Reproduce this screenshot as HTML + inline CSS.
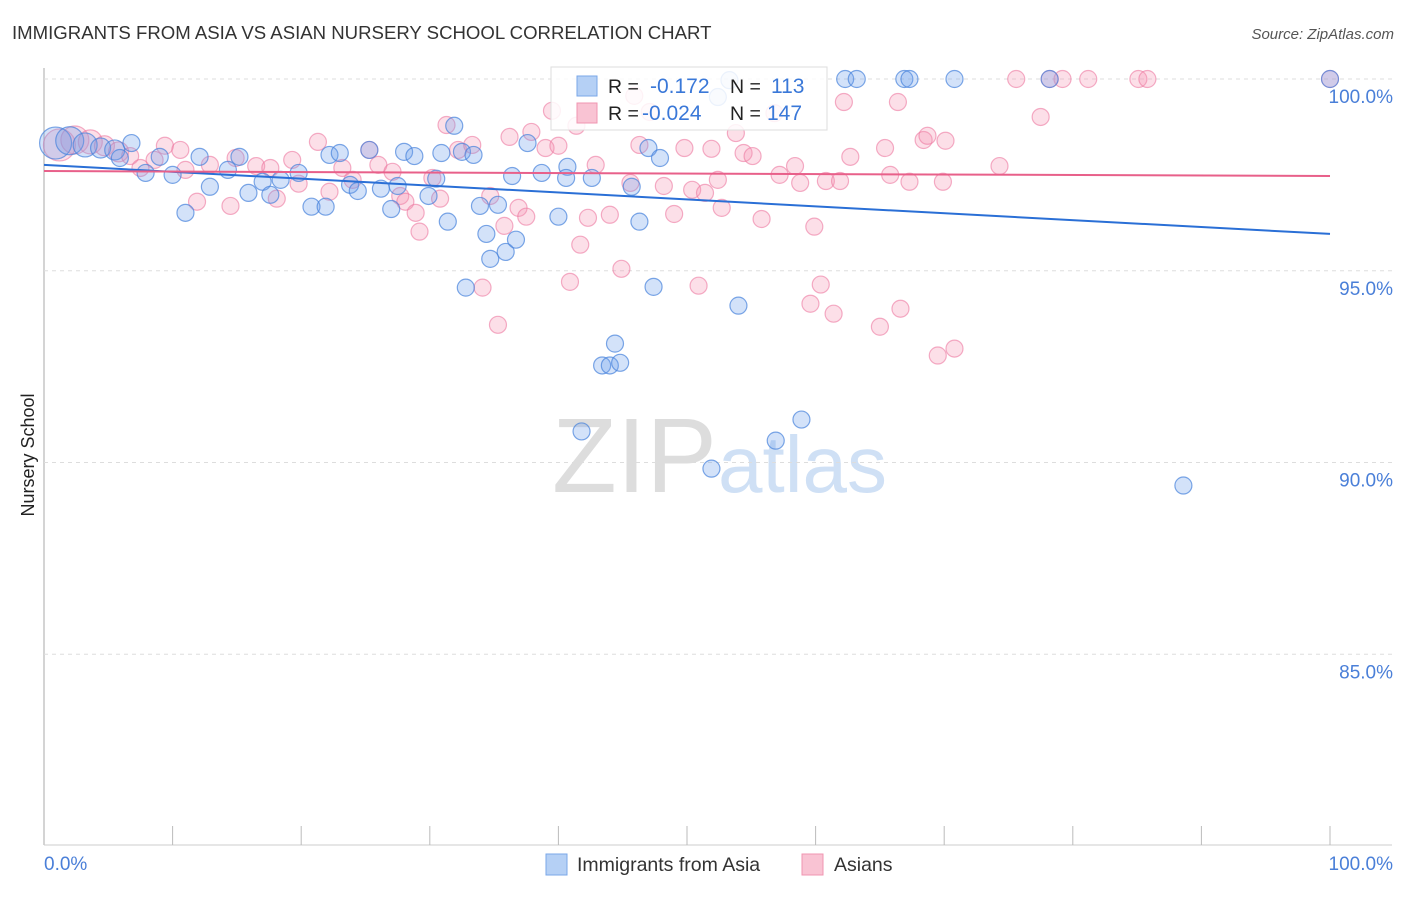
<!DOCTYPE html>
<html><head><meta charset="utf-8"><style>
body{margin:0;background:#fff;font-family:"Liberation Sans",sans-serif}
svg text{font-family:"Liberation Sans",sans-serif}
</style></head><body>
<svg id="c" width="1406" height="892">
<text x="12" y="39" font-size="18.6" fill="#333">IMMIGRANTS FROM ASIA VS ASIAN NURSERY SCHOOL CORRELATION CHART</text>
<text x="1394" y="39" font-size="15" fill="#555" font-style="italic" text-anchor="end">Source: ZipAtlas.com</text>
<text x="34" y="455" font-size="18" fill="#222" transform="rotate(-90 34 455)" text-anchor="middle">Nursery School</text>
<g><text x="552" y="492" font-size="106" fill="#ddd" font-family="Liberation Serif">ZIP</text><text x="718" y="492" font-size="80" fill="#cfe0f5">atlas</text></g>
<g id="grid"></g><g id="pts"></g><g id="lines"></g>
<g>
<rect x="551" y="67" width="276" height="63" fill="#fff" fill-opacity="0.85" stroke="#ddd"/>
<rect x="577" y="76" width="20" height="20" fill="#b5d0f5" stroke="#7aa7e8"/>
<rect x="577" y="103" width="20" height="20" fill="#f9c3d3" stroke="#f096b0"/>
<text x="608" y="93" font-size="19.5" fill="#222">R = </text><text x="650" y="93" font-size="21" fill="#3a78d8">-0.172</text>
<text x="730" y="93" font-size="19.5" fill="#222">N = </text><text x="771" y="93" font-size="21" fill="#3a78d8">113</text>
<text x="608" y="120" font-size="19.5" fill="#222">R = </text><text x="642" y="120" font-size="21" fill="#3a78d8">-0.024</text>
<text x="730" y="120" font-size="19.5" fill="#222">N = </text><text x="767" y="120" font-size="21" fill="#3a78d8">147</text>
</g>
<g>
<rect x="546" y="854" width="21" height="21" fill="#b5d0f5" stroke="#7aa7e8"/>
<text x="577" y="871" font-size="19.5" fill="#333">Immigrants from Asia</text>
<rect x="802" y="854" width="21" height="21" fill="#f9c3d3" stroke="#f096b0"/>
<text x="834" y="871" font-size="19.5" fill="#333">Asians</text>
</g>
</svg>
<script>
const blueX=[0.9,2.0,3.2,4.4,5.5,6.8,5.9,7.9,9.0,10.0,11.0,12.1,12.9,14.3,15.2,15.9,17.0,17.6,18.4,19.8,20.8,21.9,22.2,23.0,23.8,24.4,25.3,26.2,27.0,27.5,28.0,28.8,29.9,30.5,30.9,31.4,31.9,32.5,32.8,33.4,33.9,34.4,34.7,35.3,35.9,36.4,36.7,37.6,38.7,40.0,40.7,40.6,42.6,43.4,44.0,44.4,44.8,45.7,46.3,47.0,47.4,47.9,51.9,52.4,53.3,54.0,56.9,58.9,62.3,63.2,66.9,67.3,70.8,78.2,88.6,100,41.8];
const blueY=[98.33,98.39,98.28,98.2,98.15,98.33,97.94,97.55,97.97,97.5,96.51,97.97,97.19,97.63,97.97,97.03,97.32,96.98,97.37,97.55,96.67,96.67,98.02,98.07,97.24,97.08,98.15,97.14,96.61,97.21,98.1,97.99,96.95,97.4,98.07,96.28,98.78,98.1,94.56,98.02,96.69,95.96,95.31,96.72,95.49,97.47,95.81,98.33,97.55,96.41,97.71,97.42,97.42,92.53,92.53,93.1,92.6,97.19,96.28,98.2,94.58,97.94,89.84,99.53,99.97,94.09,90.57,91.12,100,100,100,100,100,100,89.4,100,90.81];
const pinkX=[1.2,2.4,3.6,4.7,5.8,6.7,7.5,8.6,9.4,10.6,11.0,11.9,12.9,14.5,14.9,16.5,17.6,18.1,19.3,19.8,21.3,22.2,23.2,24.0,25.3,26.0,27.1,27.7,28.1,28.9,29.2,30.2,30.8,31.3,32.2,33.3,34.1,34.7,35.3,35.8,36.2,36.9,37.5,37.9,39.0,39.5,40.0,40.9,41.4,41.7,42.3,42.9,44.0,44.9,45.6,45.9,46.3,47.1,48.2,49.0,49.8,50.4,50.9,51.4,51.9,52.4,52.7,53.8,54.4,55.1,55.8,56.8,57.2,58.4,58.8,59.6,59.9,60.4,60.8,61.4,61.9,62.2,62.7,65.0,65.4,65.8,66.4,66.6,67.3,68.4,68.7,69.5,69.9,70.1,70.8,74.3,75.6,77.5,79.2,81.2,85.1,85.8,100,78.2];
const pinkY=[98.28,98.41,98.36,98.26,98.1,97.99,97.68,97.89,98.26,98.15,97.63,96.8,97.76,96.69,97.94,97.73,97.68,96.88,97.89,97.27,98.36,97.06,97.68,97.37,98.15,97.76,97.58,96.95,96.8,96.51,96.02,97.42,96.88,98.8,98.15,98.28,94.56,96.95,93.59,96.17,98.49,96.64,96.41,98.62,98.2,99.17,98.26,94.71,98.78,95.68,96.38,97.76,96.46,95.05,97.29,99.56,98.28,99.14,97.21,96.48,98.2,97.11,94.61,97.03,98.18,97.37,96.64,98.59,98.07,97.99,96.35,99.11,97.5,97.73,97.29,94.14,96.15,94.64,97.34,93.88,97.34,99.4,97.97,93.54,98.2,97.5,99.4,94.01,97.32,98.41,98.52,92.79,97.32,98.39,92.97,97.73,100,99.01,100,100,100,100,100,100];
const blueTrend=[97.76,95.96];
const pinkTrend=[97.6,97.47];
const yTicks=[100,95,90,85];
const yTickLabels=["100.0%","95.0%","90.0%","85.0%"];
const xTicks=[0,10,20,30,40,50,60,70,80,90,100];

const NS="http://www.w3.org/2000/svg";
const X=v=>44+v*12.86;
const Y=v=>79+(100-v)*38.35;
function mk(t,a,p){const e=document.createElementNS(NS,t);for(const k in a)e.setAttribute(k,a[k]);p.appendChild(e);return e;}
const grid=document.getElementById('grid');
mk('line',{x1:44,y1:68,x2:44,y2:845,stroke:'#aaa'},grid);
mk('line',{x1:44,y1:845,x2:1392,y2:845,stroke:'#ccc'},grid);
yTicks.forEach((v,i)=>{
 const l=mk('line',{x1:44,y1:Y(v),x2:1392,y2:Y(v),stroke:'#ddd','stroke-dasharray':'4,4'},grid);
 
 
 const t=mk('text',{x:1393,y:Y(v)+24,'font-size':19,fill:'#4a7fd8','text-anchor':'end'},grid);
 t.textContent=yTickLabels[i];
 
 
});
xTicks.forEach(v=>{
 if(v===0)return;
 const l=mk('line',{x1:X(v),y1:826,x2:X(v),y2:845,stroke:'#bbb'},grid);
 
 
});
const xl0=mk('text',{x:44,y:870,'font-size':19,fill:'#4a7fd8'},grid);xl0.textContent='0.0%';


const xl1=mk('text',{x:1393,y:870,'font-size':19,fill:'#4a7fd8','text-anchor':'end'},grid);xl1.textContent='100.0%';


const pts=document.getElementById('pts');
const rad=i=>i===0?16:i===1?14:i===2?12:i<5?10:8.5;
pinkX.forEach((x,i)=>{
 const c=mk('circle',{cx:X(x),cy:Y(pinkY[i]),r:rad(i),fill:'rgba(244,150,180,0.3)',stroke:'rgba(236,120,160,0.6)','stroke-width':1.2},pts);
 
 
});
blueX.forEach((x,i)=>{
 const c=mk('circle',{cx:X(x),cy:Y(blueY[i]),r:rad(i),fill:'rgba(110,160,235,0.3)',stroke:'rgba(70,130,220,0.7)','stroke-width':1.2},pts);
 
 
});
const lines=document.getElementById('lines');
const lb=mk('line',{x1:X(0),y1:Y(blueTrend[0]),x2:X(100),y2:Y(blueTrend[1]),stroke:'#2a6fd6','stroke-width':2},lines);


const lp=mk('line',{x1:X(0),y1:Y(pinkTrend[0]),x2:X(100),y2:Y(pinkTrend[1]),stroke:'#e8608a','stroke-width':2},lines);


</script>
</body></html>
